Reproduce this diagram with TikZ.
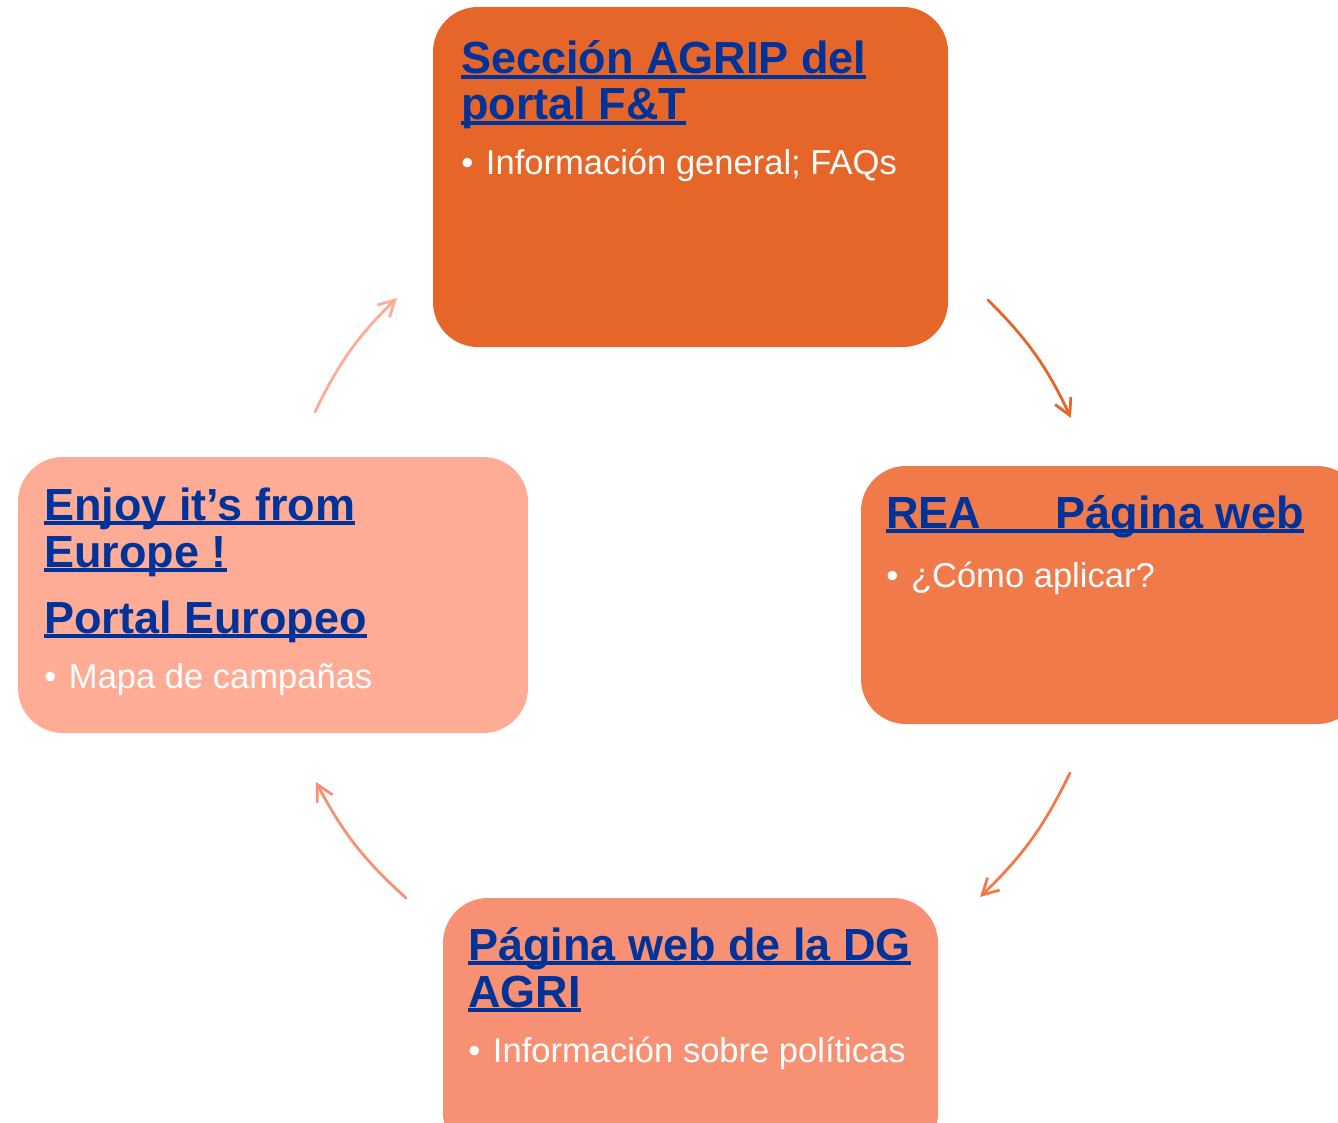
\documentclass[tikz,border=0pt]{standalone}
\usepackage{fontspec}
\setmainfont{Liberation Sans}
\usetikzlibrary{arrows.meta}

\definecolor{agripfill}{HTML}{E66529}
\definecolor{reafill}{HTML}{F07A4A}
\definecolor{dgfill}{HTML}{F89173}
\definecolor{europefill}{HTML}{FFAC96}
\definecolor{linkblue}{HTML}{003399}

\newcommand{\lnk}[1]{\setbox0=\hbox{#1}\rlap{\rule[-3.4pt]{\wd0}{2.5pt}}\box0}

\begin{document}
\begin{tikzpicture}[x=0.75pt, y=-0.75pt,
    box/.style={rectangle, rounded corners=33.75pt, inner sep=0pt, outer sep=0pt},
    title/.style={anchor=base west, inner sep=0pt, text=linkblue,
        font=\bfseries\fontsize{33.75}{34.5}\selectfont},
    item/.style={anchor=base west, inner sep=0pt, text=white,
        font=\fontsize{25.9}{30}\selectfont},
    flow/.style={line width=2.1pt, line cap=round, bend left=10,
        -{Straight Barb[length=12pt, width=13pt]}}]
    \useasboundingbox (0,0) rectangle (1338,1123);

    \node[box, fill=agripfill, minimum width=386.25pt, minimum height=255pt] (agrip) at (690.5, 177) {};
    \node[box, fill=reafill, minimum width=375.75pt, minimum height=193.5pt] (rea) at (1111.5, 595) {};
    \node[box, fill=dgfill, minimum width=371.25pt, minimum height=195pt] (dg) at (690.5, 1028) {};
    \node[box, fill=europefill, minimum width=382.5pt, minimum height=207pt] (europe) at (273, 595) {};

    \node[title] (agrip1) at (461, 74) {\lnk{Sección AGRIP del}};
    \node[title] (agrip2) at (461, 120) {\lnk{portal F\&T}};
    \node[item] (agrip3) at (461, 175) {•\hspace{9.5pt}Información general; FAQs};

    \node[title] (rea1) at (886, 528) {\lnk{REA\hspace{56pt}Página web}};
    \node[item] (rea2) at (886, 587) {•\hspace{9.5pt}¿Cómo aplicar?};

    \node[title] (dg1) at (468, 960) {\lnk{Página web de la DG}};
    \node[title] (dg2) at (468, 1007) {\lnk{AGRI}};
    \node[item] (dg3) at (468, 1062) {•\hspace{9.5pt}Información sobre políticas};

    \node[title] (europe1) at (44, 520) {\lnk{Enjoy it’s from}};
    \node[title] (europe2) at (44, 567) {\lnk{Europe !}};
    \node[title] (europe3) at (44, 633) {\lnk{Portal Europeo}};
    \node[item] (europe4) at (44, 688) {•\hspace{9.5pt}Mapa de campañas};

    % arrow ends round the cycle
    \coordinate (p1) at (315, 412);
    \coordinate (p2) at (397, 298);
    \coordinate (p3) at (988, 300);
    \coordinate (p4) at (1071, 418);
    \coordinate (p5) at (1070, 773);
    \coordinate (p6) at (980, 897);
    \coordinate (p7) at (406, 898);
    \coordinate (p8) at (316, 782);

    \draw[flow, europefill] (p1) to (p2);
    \draw[flow, agripfill] (p3) to (p4);
    \draw[flow, reafill] (p5) to (p6);
    \draw[flow, dgfill] (p7) to (p8);
\end{tikzpicture}
\end{document}
